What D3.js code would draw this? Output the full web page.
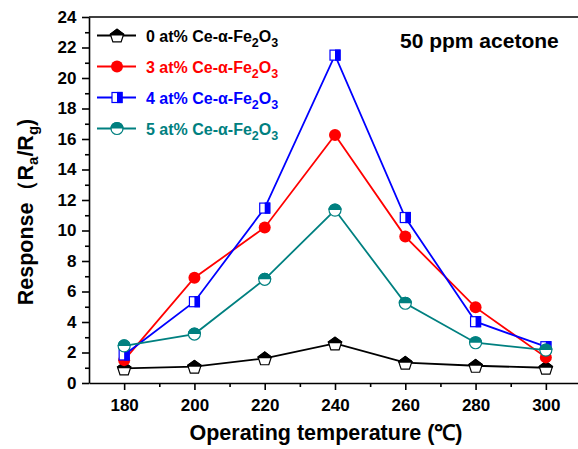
<!DOCTYPE html>
<html>
<head>
<meta charset="utf-8">
<script src="https://cdn.jsdelivr.net/npm/d3@7"></script>
<style>
  body { margin: 0; background: #fff; }
  svg { display: block; font-family: "Liberation Sans", Arial, sans-serif; }
</style>
</head>
<body>
<svg id="chart"></svg>
<script>
// Data
const temps = [180, 200, 220, 240, 260, 280, 300];
const ce0 = [0.96, 1.07, 1.62, 2.6, 1.33, 1.13, 1.0];
const ce3 = [1.5, 6.9, 10.2, 16.26, 9.6, 4.96, 1.68];
const ce4 = [1.84, 5.33, 11.47, 21.5, 10.85, 4.02, 2.38];
const ce5 = [2.43, 3.21, 6.8, 11.34, 5.23, 2.64, 2.16];
const seriesNames = ['0', '3', '4', '5'];
const seriesColors = ['#000000', '#ff0000', '#0000ff', '#008080'];
const seriesMarkers = ['pentagon', 'circle', 'square', 'halfcircle'];
const xTicks = [180, 200, 220, 240, 260, 280, 300];
const yTicks = [0, 2, 4, 6, 8, 10, 12, 14, 16, 18, 20, 22, 24];

const series = [ce0, ce3, ce4, ce5].map((vals, i) => ({
  name: seriesNames[i], color: seriesColors[i], marker: seriesMarkers[i],
  values: vals.map((v, j) => ({ t: temps[j], v: v }))
}));

// Chart dimensions
const width = 578;
const height = 449;
const plotLeft = 89, plotTop = 17, plotBottom = 383;

const svg = d3.select('#chart')
  .attr('width', width)
  .attr('height', height);

const defs = svg.append('defs');
defs.append('clipPath').attr('id', 'topHalf')
  .append('rect').attr('x', -10).attr('y', -10).attr('width', 20).attr('height', 10);
defs.append('clipPath').attr('id', 'rightHalf')
  .append('rect').attr('x', 0).attr('y', -10).attr('width', 10).attr('height', 20);

// Scales
const x = d3.scaleLinear().domain([170, 310]).range([plotLeft, 581]);
const y = d3.scaleLinear().domain([0, 24]).range([plotBottom, plotTop]);

// Frame top line (right edge is cut off in the picture)
svg.append('line')
  .attr('x1', plotLeft).attr('x2', width + 5).attr('y1', plotTop).attr('y2', plotTop)
  .attr('stroke', '#000').attr('stroke-width', 1.6);

// X axis (major + minor)
const xAxis = svg.append('g')
  .attr('transform', `translate(0, ${plotBottom})`)
  .call(d3.axisBottom(x).tickValues(xTicks).tickFormat(d3.format('d')).tickSize(7).tickSizeOuter(0));
svg.append('g')
  .attr('transform', `translate(0, ${plotBottom})`)
  .call(d3.axisBottom(x).tickValues([190, 210, 230, 250, 270, 290, 310]).tickFormat('').tickSize(4).tickSizeOuter(0))
  .select('.domain').remove();

// Y axis (major + minor)
const yAxis = svg.append('g')
  .attr('transform', `translate(${plotLeft}, 0)`)
  .call(d3.axisLeft(y).tickValues(yTicks).tickSize(7).tickSizeOuter(0));
svg.append('g')
  .attr('transform', `translate(${plotLeft}, 0)`)
  .call(d3.axisLeft(y).tickValues(d3.range(1, 24, 2)).tickFormat('').tickSize(4).tickSizeOuter(0))
  .select('.domain').remove();

svg.selectAll('.domain, .tick line').attr('stroke', '#000').attr('stroke-width', 1.6);
xAxis.selectAll('text').attr('font-size', 17).attr('font-weight', 'bold').attr('fill', '#000').attr('dy', '1.05em');
yAxis.selectAll('text').attr('font-size', 17).attr('font-weight', 'bold').attr('fill', '#000').attr('dx', '-0.15em');

// Axis titles
svg.append('text')
  .attr('x', 326).attr('y', 440)
  .attr('text-anchor', 'middle')
  .attr('font-size', 21.5).attr('font-weight', 'bold')
  .text('Operating temperature (℃)');

const yl = svg.append('text')
  .attr('transform', 'translate(33, 212) rotate(-90)')
  .attr('text-anchor', 'middle')
  .attr('font-size', 21.5).attr('font-weight', 'bold');
yl.append('tspan').text('Response（R');
yl.append('tspan').attr('font-size', 15).attr('dy', 5).text('a');
yl.append('tspan').attr('dy', -5).text('/R');
yl.append('tspan').attr('font-size', 15).attr('dy', 5).text('g');
yl.append('tspan').attr('dy', -5).text(')');

// Marker drawing
const pentagon = d3.range(5).map(k => {
  const a = -Math.PI / 2 + k * 2 * Math.PI / 5;
  return [7 * Math.cos(a), 7 * Math.sin(a) + 0.8];
});
function drawMarker(g, type, color) {
  if (type === 'circle') {
    g.append('circle').attr('r', 6).attr('fill', color);
  } else if (type === 'pentagon') {
    const d = 'M' + pentagon.map(p => p.join(',')).join('L') + 'Z';
    g.append('path').attr('d', d).attr('fill', '#fff').attr('stroke', color).attr('stroke-width', 1.2);
    g.append('path').attr('d', d).attr('fill', color).attr('stroke', color).attr('stroke-width', 1.2)
      .attr('clip-path', 'url(#topHalf)');
  } else if (type === 'square') {
    g.append('rect').attr('x', -5).attr('y', -5).attr('width', 10).attr('height', 10)
      .attr('fill', '#fff').attr('stroke', color).attr('stroke-width', 1.2);
    g.append('rect').attr('x', -5).attr('y', -5).attr('width', 10).attr('height', 10)
      .attr('fill', color).attr('stroke', color).attr('stroke-width', 1.2)
      .attr('clip-path', 'url(#rightHalf)');
  } else if (type === 'halfcircle') {
    g.append('circle').attr('r', 6).attr('fill', '#fff').attr('stroke', color).attr('stroke-width', 1.2);
    g.append('circle').attr('r', 6).attr('fill', color).attr('stroke', color).attr('stroke-width', 1.2)
      .attr('clip-path', 'url(#topHalf)');
  }
}

// Lines and markers
const line = d3.line().x(d => x(d.t)).y(d => y(d.v));
series.forEach(s => {
  svg.append('path')
    .datum(s.values)
    .attr('d', line)
    .attr('fill', 'none')
    .attr('stroke', s.color)
    .attr('stroke-width', 1.8);
});
series.forEach(s => {
  svg.selectAll(null)
    .data(s.values)
    .enter().append('g')
    .attr('transform', d => `translate(${x(d.t)}, ${y(d.v)})`)
    .each(function () { drawMarker(d3.select(this), s.marker, s.color); });
});

// Legend
series.forEach((s, i) => {
  const ly = 35.5 + i * 31;
  svg.append('line')
    .attr('x1', 97).attr('x2', 136).attr('y1', ly).attr('y2', ly)
    .attr('stroke', s.color).attr('stroke-width', 1.8);
  drawMarker(svg.append('g').attr('transform', `translate(117, ${ly})`), s.marker, s.color);
  const t = svg.append('text')
    .attr('x', 146).attr('y', ly + 6)
    .attr('font-size', 16).attr('font-weight', 'bold')
    .attr('fill', s.color);
  t.append('tspan').text(s.name + ' at% Ce-α-Fe');
  t.append('tspan').attr('font-size', 12.5).attr('dy', 5).text('2');
  t.append('tspan').attr('dy', -5).text('O');
  t.append('tspan').attr('font-size', 12.5).attr('dy', 5).text('3');
});

// Annotation
svg.append('text')
  .attr('x', 400).attr('y', 48)
  .attr('font-size', 21).attr('font-weight', 'bold')
  .text('50 ppm acetone');
</script>
</body>
</html>
